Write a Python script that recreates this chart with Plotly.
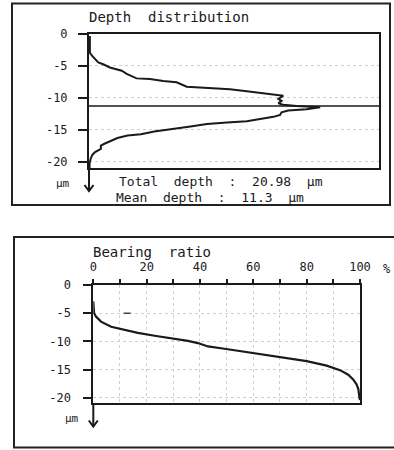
import plotly.graph_objects as go

# ---------------- data ----------------
TOTAL_DEPTH = 20.98
MEAN_DEPTH = 11.3

# Depth distribution (relative frequency, depth in µm)
dist_freq = [0.3, 0.3, 1.1, 2.1, 3.2, 4.9, 7.2, 11.3, 13.0, 16.4, 21.0, 25.6, 30.2,
             33.7, 38.3, 44.6, 48.6, 54.4, 60.1, 65.9, 67.0, 65.3, 66.4, 65.3, 67.0,
             71.6, 79.7, 75.0, 68.7, 66.4, 65.9, 63.6, 60.1, 54.4, 47.6, 40.7, 35.0,
             28.3, 22.5, 17.9, 13.3, 9.8, 7.0, 5.3, 4.1, 4.1, 2.1, 1.2, 0.6, 0.2, 0.2]
dist_depth = [-0.4, -3.0, -3.5, -4.0, -4.5, -4.8, -5.3, -5.8, -6.3, -7.0, -7.1, -7.4, -7.6,
              -8.3, -8.4, -8.6, -8.7, -9.0, -9.35, -9.7, -9.7, -10.2, -10.5, -10.9, -11.1,
              -11.3, -11.5, -11.8, -12.0, -12.3, -12.7, -13.0, -13.3, -13.7, -13.9, -14.1, -14.5,
              -14.9, -15.3, -15.7, -15.9, -16.3, -16.8, -17.2, -17.5, -18.0, -18.5, -18.9, -19.5,
              -20.3, -20.98]

# Bearing ratio (%, depth in µm)
bear_pct = [0.0, 0.3, 1.0, 2.9, 6.7, 10.4, 16.7, 23.0, 29.2, 35.5, 39.2, 43.0, 49.2,
            60.0, 70.0, 80.0, 87.5, 92.5, 95.6, 97.5, 98.7, 99.4, 99.8, 100.0]
bear_depth = [-2.9, -5.0, -5.6, -6.5, -7.4, -7.8, -8.5, -9.0, -9.4, -9.9, -10.3, -10.9, -11.3,
              -12.1, -12.8, -13.5, -14.3, -15.1, -15.9, -16.8, -17.6, -18.5, -20.0, -20.4]
speck_pct = [12.7]
speck_depth = [-5.0]

y_ticks = [0, -5, -10, -15, -20]
y_ticktext = ["0", "-5", "-10", "-15", "-20"]
x_ticks = [0, 10, 20, 30, 40, 50, 60, 70, 80, 90, 100]
x_ticktext = ["0", "", "20", "", "40", "", "60", "", "80", "", "100"]

# ---------------- layout helpers ----------------
W, H = 394, 450
def px(x):
    return x / W
def py(y):
    return 1 - y / H

FONT = "DejaVu Sans Mono"
INK = "#1a1a1a"
NB = "\u00a0"

fig = go.Figure()

fig.add_trace(go.Scatter(x=dist_freq, y=dist_depth, mode="lines",
                         line=dict(color=INK, width=2), xaxis="x", yaxis="y",
                         showlegend=False, hoverinfo="skip"))
fig.add_trace(go.Scatter(x=bear_pct, y=bear_depth, mode="lines",
                         line=dict(color=INK, width=2.2), xaxis="x2", yaxis="y2",
                         showlegend=False, hoverinfo="skip"))
fig.add_trace(go.Scatter(x=speck_pct, y=speck_depth, mode="markers",
                         marker=dict(symbol="line-ew", size=5, line=dict(color="#444", width=1.5)),
                         xaxis="x2", yaxis="y2", showlegend=False, hoverinfo="skip"))

grid = dict(showgrid=True, gridcolor="#cfcfcf", griddash="dot", gridwidth=1)

fig.update_layout(
    width=W, height=H,
    margin=dict(l=0, r=0, t=0, b=0),
    paper_bgcolor="white", plot_bgcolor="white",
    font=dict(family=FONT, size=12, color=INK),
    xaxis=dict(domain=[px(89), px(379)], range=[0, 100], showticklabels=False, ticks="",
               showgrid=False, zeroline=False, showline=True, linecolor=INK, linewidth=1.5,
               mirror=True, anchor="y", automargin=False, fixedrange=True),
    yaxis=dict(domain=[py(168), py(33.5)], range=[-TOTAL_DEPTH, 0], tickvals=y_ticks,
               ticktext=y_ticktext, ticks="outside", ticklen=9, tickcolor=INK, tickwidth=1.5,
               ticklabelstandoff=8, zeroline=False, showline=True, linecolor=INK, linewidth=2,
               mirror=True, anchor="x", automargin=False, fixedrange=True,
               tickfont=dict(family=FONT, size=12, color=INK), **grid),
    xaxis2=dict(domain=[px(93.3), px(360)], range=[0, 100], side="top", tickvals=x_ticks,
                ticktext=x_ticktext, ticks="outside", ticklen=4, tickcolor=INK, tickwidth=1.5,
                ticklabelstandoff=3, zeroline=False, showline=True, linecolor=INK, linewidth=1.5,
                mirror=True, anchor="y2", automargin=False, fixedrange=True,
                tickfont=dict(family=FONT, size=12, color=INK), **grid),
    yaxis2=dict(domain=[py(403.3), py(285)], range=[-TOTAL_DEPTH, 0], tickvals=y_ticks,
                ticktext=y_ticktext, ticks="outside", ticklen=8, tickcolor=INK, tickwidth=1.5,
                ticklabelstandoff=10, zeroline=False, showline=True, linecolor=INK, linewidth=2,
                mirror=True, anchor="x2", automargin=False, fixedrange=True,
                tickfont=dict(family=FONT, size=12, color=INK), **grid),
)

shapes = []
# outer frames
shapes.append(dict(type="rect", xref="paper", yref="paper", x0=px(12), x1=px(390),
                   y0=py(205), y1=py(3.5), line=dict(color="#222", width=2)))
shapes.append(dict(type="rect", xref="paper", yref="paper", x0=px(14), x1=px(400),
                   y0=py(447.5), y1=py(237), line=dict(color="#222", width=2)))
# mean depth line
shapes.append(dict(type="line", xref="x", yref="y", x0=0, x1=100, y0=-MEAN_DEPTH, y1=-MEAN_DEPTH,
                   line=dict(color=INK, width=1.5)))
# axis arrows (depth direction)
for ax_x, y_top, y_tip in [(89, 168, 191), (93.3, 403.3, 426.5)]:
    shapes.append(dict(type="line", xref="paper", yref="paper", x0=px(ax_x), x1=px(ax_x),
                       y0=py(y_top), y1=py(y_tip), line=dict(color=INK, width=2)))
    shapes.append(dict(type="path", xref="paper", yref="paper",
                       path=f"M {px(ax_x-4.5)},{py(y_tip-6)} L {px(ax_x)},{py(y_tip)} L {px(ax_x+4.5)},{py(y_tip-6)}",
                       line=dict(color=INK, width=2)))
fig.update_layout(shapes=shapes)

ann = []
def text(x, y, s, size=13, anchor="left"):
    ann.append(dict(xref="paper", yref="paper", x=px(x), y=py(y), text=s, showarrow=False,
                    xanchor=anchor, yanchor="middle", font=dict(family=FONT, size=size, color=INK)))

text(87, 17, "Depth" + NB * 2 + "distribution", size=14)
text(63, 183, "µm", size=11, anchor="center")
text(117, 182, "Total" + NB * 2 + "depth" + NB * 2 + ":" + NB * 2 + f"{TOTAL_DEPTH:.2f}" + NB * 2 + "µm")
text(114, 198, "Mean" + NB * 2 + "depth" + NB * 2 + ":" + NB * 2 + f"{MEAN_DEPTH:.1f}" + NB * 2 + "µm")
text(91, 252, "Bearing" + NB * 2 + "ratio", size=14)
text(387, 269, "%", size=12, anchor="center")
text(72, 418, "µm", size=11, anchor="center")
fig.update_layout(annotations=ann)

fig.write_html("out.html")
